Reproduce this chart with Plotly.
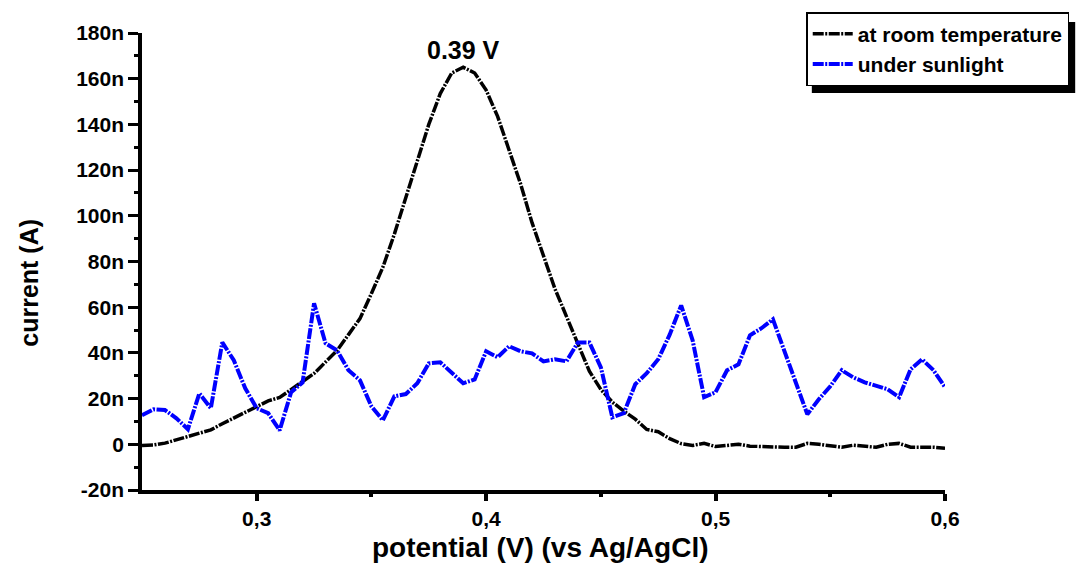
import plotly.graph_objects as go

# potential grid (V)
potential = [round(0.25 + 0.005 * i, 3) for i in range(71)]

# current at room temperature (nA)
room_temp = [-0.5, -0.3, 0.5, 2, 3.2, 5, 6.3, 9, 11.5, 14,
             16.5, 19, 20.5, 24, 27.5, 31, 36, 41, 48, 55,
             66, 77.5, 92, 107.5, 124, 140, 153.5, 162.5, 165, 162.5,
             155, 143.5, 129, 114, 97, 82, 68, 56, 44, 32,
             24, 18.5, 14.5, 11, 6.5, 5.5, 2.5, 0.3, -0.5, 0.4,
             -1, -0.5, 0, -0.8, -1, -1.3, -1.3, -1.3, 0.4, 0,
             -0.8, -1.3, -0.4, -0.8, -1.3, 0, 0.4, -1.3, -1.3, -1.3, -1.7]

# current under sunlight (nA)
sunlight = [12.7, 15.3, 15.0, 11.4, 6.6, 22.3, 15.8, 44.6, 36.8, 24.5,
            15.8, 13.6, 6.1, 22.8, 27.1, 61.7, 44.2, 41.1, 32.4, 28.0,
            16.6, 10.5, 21.0, 22.0, 26.7, 35.4, 35.9, 31.5, 26.7, 28.4,
            40.7, 38.1, 42.9, 40.7, 39.8, 36.3, 37.2, 36.3, 44.6, 44.6,
            33.7, 11.8, 13.6, 26.3, 31.1, 37.2, 48.0, 60.8, 45.5, 20.6,
            22.8, 32.4, 35.0, 47.7, 50.8, 54.7, 41.1, 26.7, 13.1, 19.7,
            25.4, 32.4, 29.3, 27.1, 25.4, 24.1, 20.6, 32.8, 37.2, 32.4, 25.0]

y_tickvals = [-20, 0, 20, 40, 60, 80, 100, 120, 140, 160, 180]
y_ticktext = ["-20n", "0", "20n", "40n", "60n", "80n", "100n", "120n", "140n", "160n", "180n"]
x_tickvals = [0.3, 0.4, 0.5, 0.6]
x_ticktext = ["0,3", "0,4", "0,5", "0,6"]

FONT = "Arial, Liberation Sans, sans-serif"
DASH = "11px,1.5px,2px,1.5px"

fig = go.Figure()
fig.add_trace(go.Scatter(x=potential, y=room_temp, mode="lines",
                         name="at room temperature",
                         line=dict(color="black", width=3.5, dash=DASH)))
fig.add_trace(go.Scatter(x=potential, y=sunlight, mode="lines",
                         name="under sunlight",
                         line=dict(color="#0000FF", width=4, dash=DASH)))

L, R, T, B = 142, 131, 33, 76
W, H = 1081, 566
pw, ph = W - L - R, H - T - B

def px_x(p):
    return (p - L) / pw

def px_y(p):
    return (H - B - p) / ph

fig.update_layout(
    width=W, height=H,
    margin=dict(l=L, r=R, t=T, b=B, pad=0),
    paper_bgcolor="white", plot_bgcolor="white",
    font=dict(family=FONT, color="black"),
    showlegend=True,
    legend=dict(x=px_x(1075), y=px_y(12), xanchor="right", yanchor="top",
                bgcolor="white", bordercolor="black", borderwidth=1.5,
                font=dict(family=FONT, size=21, weight="bold", color="black"),
                tracegroupgap=0, itemwidth=40),
    xaxis=dict(range=[0.25, 0.6], showgrid=False, zeroline=False,
               showline=True, linecolor="black", linewidth=3.5,
               ticks="outside", ticklen=7, tickwidth=3.5, tickcolor="black",
               tickvals=x_tickvals, ticktext=x_ticktext,
               tickfont=dict(family=FONT, size=21, weight="bold"),
               minor=dict(tickvals=[0.35, 0.45, 0.55], ticks="outside",
                          ticklen=3, tickwidth=3.5, tickcolor="black")),
    yaxis=dict(range=[-20, 180], showgrid=False, zeroline=False,
               showline=True, linecolor="black", linewidth=3.5,
               ticks="outside", ticklen=10, tickwidth=3, tickcolor="black",
               tickvals=y_tickvals, ticktext=y_ticktext,
               tickfont=dict(family=FONT, size=21, weight="bold"),
               minor=dict(tickvals=[-10, 10, 30, 50, 70, 90, 110, 130, 150, 170],
                          ticks="outside", ticklen=4, tickwidth=3, tickcolor="black")),
    shapes=[dict(type="rect", xref="paper", yref="paper",
                 x0=px_x(816), x1=px_x(1081), y0=px_y(93), y1=px_y(22),
                 fillcolor="black", line=dict(width=0), layer="above")],
    annotations=[
        dict(text="0.39 V", x=0.39, y=172.5, xref="x", yref="y",
             showarrow=False, xanchor="center", yanchor="middle",
             font=dict(family=FONT, size=25, weight="bold")),
        dict(text="potential (V) (vs Ag/AgCl)", x=px_x(543), y=px_y(547),
             xref="paper", yref="paper", showarrow=False,
             xanchor="center", yanchor="middle",
             font=dict(family=FONT, size=28, weight="bold")),
        dict(text="current (A)", x=px_x(28), y=px_y(283),
             xref="paper", yref="paper", showarrow=False, textangle=-90,
             xanchor="center", yanchor="middle",
             font=dict(family=FONT, size=25, weight="bold")),
    ],
)

fig.write_html("out.html")
